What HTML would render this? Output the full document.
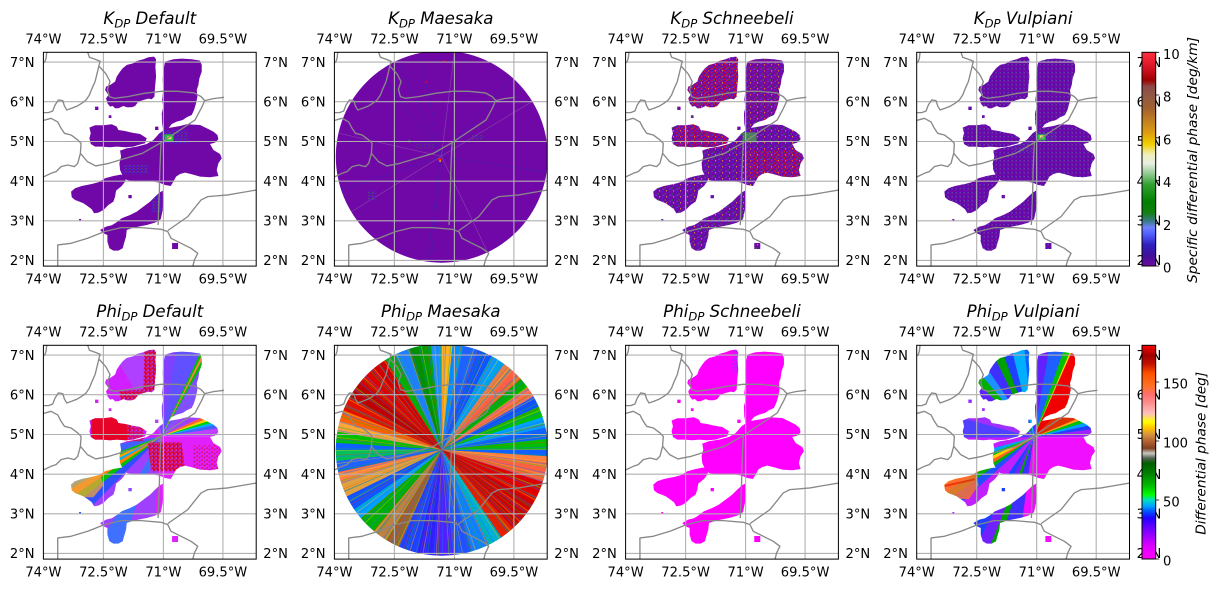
<!DOCTYPE html>
<html><head><meta charset="utf-8">
<style>
html,body{margin:0;padding:0;background:#fff;}
svg{display:block;font-family:"DejaVu Sans","Liberation Sans",sans-serif;}
.t{text-anchor:middle}.l{text-anchor:end}.r{text-anchor:start}
.tt{text-anchor:middle;font-style:italic;font-size:16.6px}
</style></head><body>
<svg width="1222" height="589" viewBox="0 0 1222 589" xmlns="http://www.w3.org/2000/svg">
<defs>
<clipPath id="ax"><rect x="0" y="0" width="212.8" height="213.8"/></clipPath>
<path id="echo" transform="scale(0.33333) translate(-130,-157)" d="M368,205 L380,195 L400,190 L410,183 L430,178 L445,172 L462,170 L468,178 L466,200 L468,230 L465,260 L463,290 L455,298 L445,296 L430,300 L415,305 L405,318 L395,322 L380,322 L370,318 L355,325 L345,325 L338,318 L330,320 L322,310 L318,295 L325,285 L315,270 L318,260 L330,255 L345,245 L350,230 L360,215 Z M495,185 L520,178 L545,176 L575,178 L600,182 L605,195 L605,215 L598,235 L595,255 L590,270 L592,290 L588,310 L582,330 L575,345 L560,352 L548,360 L530,365 L515,372 L505,385 L490,392 L486,370 L485,340 L490,320 L486,300 L490,270 L488,240 L490,210 Z M268,383 L285,376 L310,376 L335,373 L350,380 L355,390 L375,393 L395,398 L420,402 L440,415 L435,430 L415,435 L400,440 L375,442 L350,440 L330,442 L305,440 L285,440 L272,432 L268,415 L272,400 Z M460,420 L478,400 L500,385 L540,378 L560,373 L600,375 L620,385 L640,395 L652,405 L655,418 L645,428 L630,432 L640,450 L660,462 L665,475 L655,490 L650,510 L655,528 L630,532 L600,530 L575,523 L555,518 L540,522 L528,530 L520,545 L512,558 L495,555 L478,548 L460,545 L440,545 L420,545 L400,545 L380,540 L368,528 L360,510 L358,490 L363,470 L360,452 L380,445 L410,440 L440,432 Z M213,575 L225,565 L245,558 L275,552 L295,547 L315,535 L340,528 L362,524 L380,528 L375,545 L365,558 L348,572 L345,590 L340,605 L325,615 L310,630 L295,638 L282,640 L275,628 L262,618 L250,610 L238,605 L225,600 L215,592 Z M348,668 L365,655 L390,645 L410,635 L430,620 L450,605 L465,590 L478,578 L488,572 L490,600 L488,630 L482,658 L465,668 L440,675 L415,680 L395,685 L380,690 L378,710 L372,730 L368,745 L355,752 L340,752 L328,745 L322,725 L322,705 L310,700 L300,690 L318,680 L335,676 Z M465,380h10v10h-10z M285,320h10v10h-10z M326,346h8v8h-8z M385,585h10v10h-10z M516,729h18v18h-18z M237,657h6v6h-6z"/>
<clipPath id="ec"><use href="#echo"/></clipPath>
<clipPath id="cm"><circle cx="107.4" cy="104.4" r="106"/></clipPath>
<pattern id="pA" width="7" height="6" patternUnits="userSpaceOnUse">
<rect x="1" y="1" width="1.5" height="1" fill="#3030e0"/><rect x="4" y="3" width="1" height="1.5" fill="#00a000"/><rect x="2" y="4.5" width="1" height="1" fill="#6070ff"/><rect x="5.5" y="0" width="1" height="1" fill="#ffd000"/></pattern>
<pattern id="pR" width="5" height="4" patternUnits="userSpaceOnUse">
<rect x="0" y="0" width="2" height="1" fill="#ff0000"/><rect x="3" y="2" width="1.5" height="1.5" fill="#f00010"/><rect x="1" y="3" width="1" height="1" fill="#4040ff"/></pattern>
<pattern id="pV" width="4" height="4" patternUnits="userSpaceOnUse">
<rect x="0" y="0" width="2" height="1" fill="#3a10b8"/><rect x="2" y="2" width="1" height="2" fill="#4818c0"/><rect x="3" y="0" width="1" height="1" fill="#8a6a9a"/></pattern>
<pattern id="pB" width="4" height="3" patternUnits="userSpaceOnUse">
<rect x="0" y="0" width="1.5" height="1" fill="#3030ff"/><rect x="2" y="2" width="1" height="1" fill="#20a020"/></pattern>
<pattern id="pM" width="3" height="4" patternUnits="userSpaceOnUse">
<rect x="0" y="0" width="1" height="2" fill="#8040ff"/><rect x="2" y="2" width="1" height="1" fill="#4040ff"/></pattern>
<pattern id="pRV" width="4" height="4" patternUnits="userSpaceOnUse">
<rect x="0" y="0" width="4" height="4" fill="#e00010"/><rect x="0" y="0" width="1.5" height="2" fill="#b040ff"/><rect x="2.5" y="2" width="1.5" height="1" fill="#c030ff"/></pattern>
<linearGradient id="gK" x1="0" y1="1" x2="0" y2="0">
<stop offset="0" stop-color="#6c0aa0"/><stop offset="0.05" stop-color="#40109a"/><stop offset="0.10" stop-color="#3020c0"/><stop offset="0.15" stop-color="#5060ff"/><stop offset="0.18" stop-color="#7080ff"/><stop offset="0.21" stop-color="#3a7a8a"/><stop offset="0.25" stop-color="#108010"/><stop offset="0.30" stop-color="#008000"/><stop offset="0.38" stop-color="#30a030"/><stop offset="0.44" stop-color="#a0d0a0"/><stop offset="0.48" stop-color="#e8eee0"/><stop offset="0.52" stop-color="#f0f0c0"/><stop offset="0.57" stop-color="#f0d000"/><stop offset="0.62" stop-color="#e0a010"/><stop offset="0.68" stop-color="#c08020"/><stop offset="0.74" stop-color="#a06030"/><stop offset="0.80" stop-color="#905848"/><stop offset="0.84" stop-color="#904848"/><stop offset="0.87" stop-color="#a00000"/><stop offset="0.92" stop-color="#d01020"/><stop offset="1" stop-color="#ff3040"/></linearGradient>
<linearGradient id="gP" x1="0" y1="1" x2="0" y2="0">
<stop offset="0" stop-color="#ff00ff"/><stop offset="0.059" stop-color="#e000ff"/><stop offset="0.106" stop-color="#a000ff"/><stop offset="0.152" stop-color="#6000ff"/><stop offset="0.191" stop-color="#2000ff"/><stop offset="0.222" stop-color="#0050ff"/><stop offset="0.246" stop-color="#00a0ff"/><stop offset="0.277" stop-color="#00e0c0"/><stop offset="0.300" stop-color="#00ff00"/><stop offset="0.339" stop-color="#00c000"/><stop offset="0.401" stop-color="#008000"/><stop offset="0.448" stop-color="#006000"/><stop offset="0.471" stop-color="#506050"/><stop offset="0.495" stop-color="#c8c8c0"/><stop offset="0.518" stop-color="#804020"/><stop offset="0.549" stop-color="#b06030"/><stop offset="0.580" stop-color="#d09040"/><stop offset="0.611" stop-color="#ffc000"/><stop offset="0.642" stop-color="#ffff00"/><stop offset="0.681" stop-color="#ffc0c0"/><stop offset="0.728" stop-color="#ff9090"/><stop offset="0.767" stop-color="#ff7070"/><stop offset="0.813" stop-color="#ff7020"/><stop offset="0.868" stop-color="#ff5000"/><stop offset="0.914" stop-color="#c01000"/><stop offset="0.953" stop-color="#a00000"/><stop offset="1" stop-color="#ff0000"/></linearGradient>
<g id="frame">
<g clip-path="url(#ax)">
<path d="M60,0V214M120,0V214M179.5,0V214M0,9.8H213M0,49.4H213M0,89.2H213M0,128.9H213M0,168.5H213M0,208.1H213" stroke="#b0b0b0" stroke-width="1.1" fill="none"/>
<path transform="scale(0.33333) translate(-130,-157)" fill="none" stroke="#888" stroke-width="4" stroke-linejoin="round" d="M140,157 L138,175 L134,186 L128,190 M263,157 L268,172 L285,178 L300,184 L296,200 L290,225 L285,245 L276,265 L268,285 L258,300 L245,310 L232,318 L215,325 L200,330 L193,318 L188,302 L175,300 L165,315 L158,333 L145,338 L128,338 M298,200 L318,222 L330,245 L322,268 L328,290 L343,295 L383,290 L433,280 L483,274 L533,274 L583,279 L603,290 L614,302 L640,296 L672,292 M128,362 L153,355 L173,366 L183,385 L193,400 L213,405 L233,420 L243,430 L241,460 L233,490 L223,500 L203,495 L183,500 L168,515 L153,520 L128,532 M241,460 L262,485 L287,498 L327,490 L377,475 L427,460 L483,428 L537,392 L585,360 L605,322 L614,302 M483,428 L481,470 L479,520 L478,570 L476,620 L474,675 M173,800 L173,735 L213,730 L263,715 L313,695 L363,683 L423,683 L483,688 L503,695 L513,715 L543,730 L573,745 L593,760 L583,780 L578,800 M503,692 L563,650 L603,600 L623,590 L683,585 L723,578 L770,570"/>
</g>
<rect x="0" y="0" width="212.8" height="213.8" fill="none" stroke="#000" stroke-width="1"/>
</g>
</defs>
<rect width="1222" height="589" fill="#fff"/>

<!-- ===== Row 1 ===== -->
<g transform="translate(43.4,52.3)">
<g clip-path="url(#ax)">
<use href="#echo" fill="#7008a8"/>
<g clip-path="url(#ec)">
<rect x="115" y="78" width="30" height="14" fill="url(#pB)"/>
<rect x="80" y="112" width="25" height="10" fill="url(#pB)"/>
<rect x="108" y="142" width="10" height="18" fill="url(#pB)"/>
<rect x="121" y="82" width="9" height="7" fill="#20c040"/>
<rect x="124" y="84" width="4" height="3" fill="#f0e060"/>
</g>
</g>
<use href="#frame"/>
<g font-size="13.1">
<text class="t" y="-8.8"><tspan x="0">74°W</tspan><tspan x="60">72.5°W</tspan><tspan x="120">71°W</tspan><tspan x="179.5">69.5°W</tspan></text>
<text class="t" y="231"><tspan x="0">74°W</tspan><tspan x="60">72.5°W</tspan><tspan x="120">71°W</tspan><tspan x="179.5">69.5°W</tspan></text>
<text class="l"><tspan x="-8.8" y="14.5">7°N</tspan><tspan x="-8.8" y="54.1">6°N</tspan><tspan x="-8.8" y="93.9">5°N</tspan><tspan x="-8.8" y="133.6">4°N</tspan><tspan x="-8.8" y="173.2">3°N</tspan><tspan x="-8.8" y="212.8">2°N</tspan></text>
<text class="r"><tspan x="219.9" y="14.5">7°N</tspan><tspan x="219.9" y="54.1">6°N</tspan><tspan x="219.9" y="93.9">5°N</tspan><tspan x="219.9" y="133.6">4°N</tspan><tspan x="219.9" y="173.2">3°N</tspan><tspan x="219.9" y="212.8">2°N</tspan></text>
</g>
<text class="tt" x="106.4" y="-28.3">K<tspan font-size="11.6" dy="3.5">DP</tspan><tspan dy="-3.5"> Default</tspan></text>
</g>

<g transform="translate(334.4,52.3)">
<g clip-path="url(#ax)">
<circle cx="107.4" cy="104.4" r="106" fill="#7008a8"/>
<g clip-path="url(#cm)">
<path d="M107,104 L85,0 M107,104 L92,214 M107,104 L96,214 M107,104 L60,0 M107,104 L0,140 M107,104 L213,120 M107,104 L30,0 M107,104 L200,0" stroke="#4020b0" stroke-width="0.8" opacity="0.6"/>
<path d="M107,104 L0,80 M107,104 L0,170 M107,104 L160,214 M107,104 L213,40 M107,104 L120,0" stroke="#9a70b0" stroke-width="0.7" opacity="0.5"/>
</g>
<rect x="91" y="29" width="1.5" height="1.5" fill="#ff0000"/>
<rect x="109" y="8" width="1.5" height="2" fill="#ff0000"/>
<rect x="34" y="138" width="8" height="10" fill="url(#pB)"/>
<rect x="74" y="88" width="2" height="2" fill="#00c000"/>
<rect x="104" y="106" width="3" height="2" fill="#ff2000"/>
<rect x="105" y="108" width="1.5" height="1.5" fill="#ffd000"/>
<rect x="80" y="90" width="20" height="6" fill="url(#pB)" opacity="0.6"/>
<rect x="138" y="83" width="12" height="4" fill="url(#pB)"/>
</g>
<use href="#frame"/>
<g font-size="13.1">
<text class="t" y="-8.8"><tspan x="0">74°W</tspan><tspan x="60">72.5°W</tspan><tspan x="120">71°W</tspan><tspan x="179.5">69.5°W</tspan></text>
<text class="t" y="231"><tspan x="0">74°W</tspan><tspan x="60">72.5°W</tspan><tspan x="120">71°W</tspan><tspan x="179.5">69.5°W</tspan></text>
<text class="l"><tspan x="-8.8" y="14.5">7°N</tspan><tspan x="-8.8" y="54.1">6°N</tspan><tspan x="-8.8" y="93.9">5°N</tspan><tspan x="-8.8" y="133.6">4°N</tspan><tspan x="-8.8" y="173.2">3°N</tspan><tspan x="-8.8" y="212.8">2°N</tspan></text>
<text class="r"><tspan x="219.9" y="14.5">7°N</tspan><tspan x="219.9" y="54.1">6°N</tspan><tspan x="219.9" y="93.9">5°N</tspan><tspan x="219.9" y="133.6">4°N</tspan><tspan x="219.9" y="173.2">3°N</tspan><tspan x="219.9" y="212.8">2°N</tspan></text>
</g>
<text class="tt" x="106.4" y="-28.3">K<tspan font-size="11.6" dy="3.5">DP</tspan><tspan dy="-3.5"> Maesaka</tspan></text>
</g>

<g transform="translate(625.6,52.3)">
<g clip-path="url(#ax)">
<use href="#echo" fill="#7008a8"/>
<g clip-path="url(#ec)">
<rect x="0" y="0" width="213" height="214" fill="url(#pA)"/>
<rect x="63" y="8" width="52" height="54" fill="url(#pR)"/>
<rect x="50" y="66" width="52" height="30" fill="url(#pR)"/>
<rect x="120" y="97" width="57" height="28" fill="url(#pR)"/>
<rect x="120" y="8" width="35" height="60" fill="url(#pR)" opacity="0.35"/>
<rect x="117" y="80" width="14" height="10" fill="#40b040" opacity="0.7"/>
</g>
</g>
<use href="#frame"/>
<g font-size="13.1">
<text class="t" y="-8.8"><tspan x="0">74°W</tspan><tspan x="60">72.5°W</tspan><tspan x="120">71°W</tspan><tspan x="179.5">69.5°W</tspan></text>
<text class="t" y="231"><tspan x="0">74°W</tspan><tspan x="60">72.5°W</tspan><tspan x="120">71°W</tspan><tspan x="179.5">69.5°W</tspan></text>
<text class="l"><tspan x="-8.8" y="14.5">7°N</tspan><tspan x="-8.8" y="54.1">6°N</tspan><tspan x="-8.8" y="93.9">5°N</tspan><tspan x="-8.8" y="133.6">4°N</tspan><tspan x="-8.8" y="173.2">3°N</tspan><tspan x="-8.8" y="212.8">2°N</tspan></text>
<text class="r"><tspan x="219.9" y="14.5">7°N</tspan><tspan x="219.9" y="54.1">6°N</tspan><tspan x="219.9" y="93.9">5°N</tspan><tspan x="219.9" y="133.6">4°N</tspan><tspan x="219.9" y="173.2">3°N</tspan><tspan x="219.9" y="212.8">2°N</tspan></text>
</g>
<text class="tt" x="106.4" y="-28.3">K<tspan font-size="11.6" dy="3.5">DP</tspan><tspan dy="-3.5"> Schneebeli</tspan></text>
</g>

<g transform="translate(916.7,52.3)">
<g clip-path="url(#ax)">
<use href="#echo" fill="#7008a8"/>
<g clip-path="url(#ec)">
<rect x="0" y="0" width="213" height="214" fill="url(#pV)"/>
<rect x="118" y="79" width="22" height="10" fill="url(#pB)"/>
<rect x="121" y="82" width="8" height="6" fill="#20c040"/>
<rect x="123" y="83" width="4" height="3" fill="#f0e060"/>
<rect x="95" y="88" width="20" height="12" fill="url(#pB)"/>
</g>
</g>
<use href="#frame"/>
<g font-size="13.1">
<text class="t" y="-8.8"><tspan x="0">74°W</tspan><tspan x="60">72.5°W</tspan><tspan x="120">71°W</tspan><tspan x="179.5">69.5°W</tspan></text>
<text class="t" y="231"><tspan x="0">74°W</tspan><tspan x="60">72.5°W</tspan><tspan x="120">71°W</tspan><tspan x="179.5">69.5°W</tspan></text>
<text class="l"><tspan x="-8.8" y="14.5">7°N</tspan><tspan x="-8.8" y="54.1">6°N</tspan><tspan x="-8.8" y="93.9">5°N</tspan><tspan x="-8.8" y="133.6">4°N</tspan><tspan x="-8.8" y="173.2">3°N</tspan><tspan x="-8.8" y="212.8">2°N</tspan></text>
<text class="r"><tspan x="219.9" y="14.5">7°N</tspan><tspan x="219.9" y="54.1">6°N</tspan><tspan x="219.9" y="93.9">5°N</tspan><tspan x="219.9" y="133.6">4°N</tspan><tspan x="219.9" y="173.2">3°N</tspan><tspan x="219.9" y="212.8">2°N</tspan></text>
</g>
<text class="tt" x="106.4" y="-28.3">K<tspan font-size="11.6" dy="3.5">DP</tspan><tspan dy="-3.5"> Vulpiani</tspan></text>
</g>

<!-- ===== Row 2 ===== -->
<g transform="translate(43.4,345.3)">
<g clip-path="url(#ax)">
<g clip-path="url(#ec)">
<g transform="translate(118,91) scale(2,-2)" fill="none" stroke-width="114.6">
<circle r="57.296" stroke="#c040ff" stroke-dasharray="8.4 400"/>
<circle r="57.296" stroke="#4060ff" stroke-dasharray="4.4 400" stroke-dashoffset="-8"/>
<circle r="57.296" stroke="#00b0ff" stroke-dasharray="3.4 400" stroke-dashoffset="-12"/>
<circle r="57.296" stroke="#00d000" stroke-dasharray="3.4 400" stroke-dashoffset="-15"/>
<circle r="57.296" stroke="#ffd000" stroke-dasharray="3.4 400" stroke-dashoffset="-18"/>
<circle r="57.296" stroke="#ff6030" stroke-dasharray="4.4 400" stroke-dashoffset="-21"/>
<circle r="57.296" stroke="#a040ff" stroke-dasharray="20.4 400" stroke-dashoffset="-25"/>
<circle r="57.296" stroke="#8050ff" stroke-dasharray="15.4 400" stroke-dashoffset="-45"/>
<circle r="57.296" stroke="#00c000" stroke-dasharray="2.4 400" stroke-dashoffset="-60"/>
<circle r="57.296" stroke="#ff8040" stroke-dasharray="1.9 400" stroke-dashoffset="-62"/>
<circle r="57.296" stroke="#00c000" stroke-dasharray="1.9 400" stroke-dashoffset="-63.5"/>
<circle r="57.296" stroke="#6050ff" stroke-dasharray="15.4 400" stroke-dashoffset="-65"/>
<circle r="57.296" stroke="#8040ff" stroke-dasharray="20.4 400" stroke-dashoffset="-80"/>
<circle r="57.296" stroke="#b040ff" stroke-dasharray="20.4 400" stroke-dashoffset="-100"/>
<circle r="57.296" stroke="#d020ff" stroke-dasharray="70.4 400" stroke-dashoffset="-120"/>
<circle r="57.296" stroke="#4060ff" stroke-dasharray="10.4 400" stroke-dashoffset="-190"/>
<circle r="57.296" stroke="#00c000" stroke-dasharray="4.4 400" stroke-dashoffset="-200"/>
<circle r="57.296" stroke="#ffa000" stroke-dasharray="3.4 400" stroke-dashoffset="-204"/>
<circle r="57.296" stroke="#00b0ff" stroke-dasharray="3.4 400" stroke-dashoffset="-207"/>
<circle r="57.296" stroke="#ff8000" stroke-dasharray="4.4 400" stroke-dashoffset="-210"/>
<circle r="57.296" stroke="#00c000" stroke-dasharray="4.4 400" stroke-dashoffset="-214"/>
<circle r="57.296" stroke="#3050ff" stroke-dasharray="7.4 400" stroke-dashoffset="-218"/>
<circle r="57.296" stroke="#a040ff" stroke-dasharray="15.4 400" stroke-dashoffset="-225"/>
<circle r="57.296" stroke="#4070ff" stroke-dasharray="10.4 400" stroke-dashoffset="-240"/>
<circle r="57.296" stroke="#a040ff" stroke-dasharray="15.4 400" stroke-dashoffset="-250"/>
<circle r="57.296" stroke="#e020ff" stroke-dasharray="95 400" stroke-dashoffset="-265"/>
</g>
<polygon points="101,4 114,4 114,58 78,60 76,46 100,44" fill="url(#pRV)" opacity="0.9"/>
<polygon points="48,66 82,66 88,80 84,96 48,96" fill="#e80010" opacity="0.9"/>
<polygon points="82,66 100,72 100,96 84,96" fill="url(#pRV)" opacity="0.7"/>
<polygon points="104,97 138,97 142,126 108,126" fill="url(#pRV)" opacity="0.9"/>
<rect x="150" y="100" width="27" height="25" fill="url(#pR)" opacity="0.8"/>
<polygon points="22,128 56,126 60,140 50,152 22,152" fill="#f0a040" opacity="0.75"/>
</g>
</g>
<use href="#frame"/>
<g font-size="13.1">
<text class="t" y="-8.8"><tspan x="0">74°W</tspan><tspan x="60">72.5°W</tspan><tspan x="120">71°W</tspan><tspan x="179.5">69.5°W</tspan></text>
<text class="t" y="231"><tspan x="0">74°W</tspan><tspan x="60">72.5°W</tspan><tspan x="120">71°W</tspan><tspan x="179.5">69.5°W</tspan></text>
<text class="l"><tspan x="-8.8" y="14.5">7°N</tspan><tspan x="-8.8" y="54.1">6°N</tspan><tspan x="-8.8" y="93.9">5°N</tspan><tspan x="-8.8" y="133.6">4°N</tspan><tspan x="-8.8" y="173.2">3°N</tspan><tspan x="-8.8" y="212.8">2°N</tspan></text>
<text class="r"><tspan x="219.9" y="14.5">7°N</tspan><tspan x="219.9" y="54.1">6°N</tspan><tspan x="219.9" y="93.9">5°N</tspan><tspan x="219.9" y="133.6">4°N</tspan><tspan x="219.9" y="173.2">3°N</tspan><tspan x="219.9" y="212.8">2°N</tspan></text>
</g>
<text class="tt" x="106.4" y="-28.3">Phi<tspan font-size="11.6" dy="3.5">DP</tspan><tspan dy="-3.5"> Default</tspan></text>
</g>

<g transform="translate(334.4,345.3)">
<g clip-path="url(#ax)">
<g clip-path="url(#cm)">
<circle cx="107.4" cy="104.4" r="106" fill="#3060ff"/>
<g transform="translate(107.4,104.4) scale(1,-1)" fill="none" stroke-width="114.6">
<circle r="57.296" stroke="#00c000" stroke-dasharray="6.5 400"/>
<circle r="57.296" stroke="#1060ff" stroke-dasharray="6.5 400" stroke-dashoffset="-6"/>
<circle r="57.296" stroke="#00a0ff" stroke-dasharray="6.5 400" stroke-dashoffset="-12"/>
<circle r="57.296" stroke="#00c000" stroke-dasharray="6.5 400" stroke-dashoffset="-18"/>
<circle r="57.296" stroke="#1050ff" stroke-dasharray="6.5 400" stroke-dashoffset="-24"/>
<circle r="57.296" stroke="#ff7050" stroke-dasharray="6.5 400" stroke-dashoffset="-30"/>
<circle r="57.296" stroke="#00b000" stroke-dasharray="6.5 400" stroke-dashoffset="-36"/>
<circle r="57.296" stroke="#ff6040" stroke-dasharray="6.5 400" stroke-dashoffset="-42"/>
<circle r="57.296" stroke="#e08050" stroke-dasharray="6.5 400" stroke-dashoffset="-48"/>
<circle r="57.296" stroke="#00a0ff" stroke-dasharray="8.5 400" stroke-dashoffset="-54"/>
<circle r="57.296" stroke="#1050ff" stroke-dasharray="8.5 400" stroke-dashoffset="-62"/>
<circle r="57.296" stroke="#2060ff" stroke-dasharray="8.5 400" stroke-dashoffset="-70"/>
<circle r="57.296" stroke="#0090ff" stroke-dasharray="6.5 400" stroke-dashoffset="-78"/>
<circle r="57.296" stroke="#ffb020" stroke-dasharray="6.5 400" stroke-dashoffset="-84"/>
<circle r="57.296" stroke="#1e90ff" stroke-dasharray="6.5 400" stroke-dashoffset="-90"/>
<circle r="57.296" stroke="#00a000" stroke-dasharray="6.5 400" stroke-dashoffset="-96"/>
<circle r="57.296" stroke="#009000" stroke-dasharray="6.5 400" stroke-dashoffset="-102"/>
<circle r="57.296" stroke="#1e80ff" stroke-dasharray="8.5 400" stroke-dashoffset="-108"/>
<circle r="57.296" stroke="#00b000" stroke-dasharray="6.5 400" stroke-dashoffset="-116"/>
<circle r="57.296" stroke="#d00000" stroke-dasharray="8.5 400" stroke-dashoffset="-122"/>
<circle r="57.296" stroke="#e00000" stroke-dasharray="10.5 400" stroke-dashoffset="-130"/>
<circle r="57.296" stroke="#c00000" stroke-dasharray="10.5 400" stroke-dashoffset="-140"/>
<circle r="57.296" stroke="#e01000" stroke-dasharray="8.5 400" stroke-dashoffset="-150"/>
<circle r="57.296" stroke="#ff6000" stroke-dasharray="6.5 400" stroke-dashoffset="-158"/>
<circle r="57.296" stroke="#ffa040" stroke-dasharray="6.5 400" stroke-dashoffset="-164"/>
<circle r="57.296" stroke="#00c000" stroke-dasharray="6.5 400" stroke-dashoffset="-170"/>
<circle r="57.296" stroke="#1060ff" stroke-dasharray="4.5 400" stroke-dashoffset="-176"/>
<circle r="57.296" stroke="#00c060" stroke-dasharray="6.5 400" stroke-dashoffset="-180"/>
<circle r="57.296" stroke="#2060ff" stroke-dasharray="6.5 400" stroke-dashoffset="-186"/>
<circle r="57.296" stroke="#ff8040" stroke-dasharray="6.5 400" stroke-dashoffset="-192"/>
<circle r="57.296" stroke="#e0a040" stroke-dasharray="8.5 400" stroke-dashoffset="-198"/>
<circle r="57.296" stroke="#1050ff" stroke-dasharray="8.5 400" stroke-dashoffset="-206"/>
<circle r="57.296" stroke="#00a0ff" stroke-dasharray="6.5 400" stroke-dashoffset="-214"/>
<circle r="57.296" stroke="#00b000" stroke-dasharray="10.5 400" stroke-dashoffset="-220"/>
<circle r="57.296" stroke="#c08040" stroke-dasharray="8.5 400" stroke-dashoffset="-230"/>
<circle r="57.296" stroke="#a06030" stroke-dasharray="8.5 400" stroke-dashoffset="-238"/>
<circle r="57.296" stroke="#2040ff" stroke-dasharray="10.5 400" stroke-dashoffset="-246"/>
<circle r="57.296" stroke="#3020ff" stroke-dasharray="10.5 400" stroke-dashoffset="-256"/>
<circle r="57.296" stroke="#5020ff" stroke-dasharray="10.5 400" stroke-dashoffset="-266"/>
<circle r="57.296" stroke="#2050ff" stroke-dasharray="10.5 400" stroke-dashoffset="-276"/>
<circle r="57.296" stroke="#1080ff" stroke-dasharray="10.5 400" stroke-dashoffset="-286"/>
<circle r="57.296" stroke="#00b0d0" stroke-dasharray="8.5 400" stroke-dashoffset="-296"/>
<circle r="57.296" stroke="#e02000" stroke-dasharray="8.5 400" stroke-dashoffset="-304"/>
<circle r="57.296" stroke="#d00000" stroke-dasharray="18.5 400" stroke-dashoffset="-312"/>
<circle r="57.296" stroke="#e00000" stroke-dasharray="12.5 400" stroke-dashoffset="-330"/>
<circle r="57.296" stroke="#ff6040" stroke-dasharray="8.5 400" stroke-dashoffset="-342"/>
<circle r="57.296" stroke="#ff8040" stroke-dasharray="6.5 400" stroke-dashoffset="-350"/>
<circle r="57.296" stroke="#1060ff" stroke-dasharray="4 400" stroke-dashoffset="-356"/>
<circle r="57.296" stroke="#ffd000" stroke-dasharray="0.5 6.7" opacity="0.45"/>
<circle r="57.296" stroke="#00c000" stroke-dasharray="0.6 5.3" stroke-dashoffset="-2" opacity="0.4"/>
<circle r="57.296" stroke="#ff3000" stroke-dasharray="0.5 8.9" stroke-dashoffset="-4" opacity="0.4"/>
<circle r="57.296" stroke="#1e6fff" stroke-dasharray="0.7 4.1" stroke-dashoffset="-1" opacity="0.4"/>
</g>
</g>
</g>
<use href="#frame"/>
<g font-size="13.1">
<text class="t" y="-8.8"><tspan x="0">74°W</tspan><tspan x="60">72.5°W</tspan><tspan x="120">71°W</tspan><tspan x="179.5">69.5°W</tspan></text>
<text class="t" y="231"><tspan x="0">74°W</tspan><tspan x="60">72.5°W</tspan><tspan x="120">71°W</tspan><tspan x="179.5">69.5°W</tspan></text>
<text class="l"><tspan x="-8.8" y="14.5">7°N</tspan><tspan x="-8.8" y="54.1">6°N</tspan><tspan x="-8.8" y="93.9">5°N</tspan><tspan x="-8.8" y="133.6">4°N</tspan><tspan x="-8.8" y="173.2">3°N</tspan><tspan x="-8.8" y="212.8">2°N</tspan></text>
<text class="r"><tspan x="219.9" y="14.5">7°N</tspan><tspan x="219.9" y="54.1">6°N</tspan><tspan x="219.9" y="93.9">5°N</tspan><tspan x="219.9" y="133.6">4°N</tspan><tspan x="219.9" y="173.2">3°N</tspan><tspan x="219.9" y="212.8">2°N</tspan></text>
</g>
<text class="tt" x="106.4" y="-28.3">Phi<tspan font-size="11.6" dy="3.5">DP</tspan><tspan dy="-3.5"> Maesaka</tspan></text>
</g>

<g transform="translate(625.6,345.3)">
<g clip-path="url(#ax)">
<use href="#echo" fill="#ff00ff"/>
<g clip-path="url(#ec)">
<rect x="107" y="4" width="10" height="22" fill="url(#pM)"/>
<rect x="60" y="60" width="6" height="6" fill="url(#pM)" opacity="0.6"/>
</g>
</g>
<use href="#frame"/>
<g font-size="13.1">
<text class="t" y="-8.8"><tspan x="0">74°W</tspan><tspan x="60">72.5°W</tspan><tspan x="120">71°W</tspan><tspan x="179.5">69.5°W</tspan></text>
<text class="t" y="231"><tspan x="0">74°W</tspan><tspan x="60">72.5°W</tspan><tspan x="120">71°W</tspan><tspan x="179.5">69.5°W</tspan></text>
<text class="l"><tspan x="-8.8" y="14.5">7°N</tspan><tspan x="-8.8" y="54.1">6°N</tspan><tspan x="-8.8" y="93.9">5°N</tspan><tspan x="-8.8" y="133.6">4°N</tspan><tspan x="-8.8" y="173.2">3°N</tspan><tspan x="-8.8" y="212.8">2°N</tspan></text>
<text class="r"><tspan x="219.9" y="14.5">7°N</tspan><tspan x="219.9" y="54.1">6°N</tspan><tspan x="219.9" y="93.9">5°N</tspan><tspan x="219.9" y="133.6">4°N</tspan><tspan x="219.9" y="173.2">3°N</tspan><tspan x="219.9" y="212.8">2°N</tspan></text>
</g>
<text class="tt" x="106.4" y="-28.3">Phi<tspan font-size="11.6" dy="3.5">DP</tspan><tspan dy="-3.5"> Schneebeli</tspan></text>
</g>

<g transform="translate(916.7,345.3)">
<g clip-path="url(#ax)">
<g clip-path="url(#ec)">
<g transform="translate(117,92) scale(2,-2)" fill="none" stroke-width="114.6">
<circle r="57.296" stroke="#a020ff" stroke-dasharray="8.4 400"/>
<circle r="57.296" stroke="#2040ff" stroke-dasharray="4.4 400" stroke-dashoffset="-8"/>
<circle r="57.296" stroke="#00a0ff" stroke-dasharray="4.4 400" stroke-dashoffset="-12"/>
<circle r="57.296" stroke="#00c000" stroke-dasharray="4.4 400" stroke-dashoffset="-16"/>
<circle r="57.296" stroke="#ffa020" stroke-dasharray="3.4 400" stroke-dashoffset="-20"/>
<circle r="57.296" stroke="#e03000" stroke-dasharray="22.4 400" stroke-dashoffset="-23"/>
<circle r="57.296" stroke="#f00000" stroke-dasharray="21.4 400" stroke-dashoffset="-45"/>
<circle r="57.296" stroke="#ffd000" stroke-dasharray="1.4 400" stroke-dashoffset="-66"/>
<circle r="57.296" stroke="#00c000" stroke-dasharray="4.4 400" stroke-dashoffset="-67"/>
<circle r="57.296" stroke="#1e60ff" stroke-dasharray="9.4 400" stroke-dashoffset="-71"/>
<circle r="57.296" stroke="#6020ff" stroke-dasharray="8.4 400" stroke-dashoffset="-80"/>
<circle r="57.296" stroke="#1060ff" stroke-dasharray="8.4 400" stroke-dashoffset="-88"/>
<circle r="57.296" stroke="#00b0ff" stroke-dasharray="8.4 400" stroke-dashoffset="-96"/>
<circle r="57.296" stroke="#2040ff" stroke-dasharray="6.4 400" stroke-dashoffset="-104"/>
<circle r="57.296" stroke="#00a000" stroke-dasharray="6.4 400" stroke-dashoffset="-110"/>
<circle r="57.296" stroke="#4030ff" stroke-dasharray="8.4 400" stroke-dashoffset="-116"/>
<circle r="57.296" stroke="#1e90ff" stroke-dasharray="6.4 400" stroke-dashoffset="-124"/>
<circle r="57.296" stroke="#00b000" stroke-dasharray="6.4 400" stroke-dashoffset="-130"/>
<circle r="57.296" stroke="#6020ff" stroke-dasharray="14.4 400" stroke-dashoffset="-136"/>
<circle r="57.296" stroke="#a030ff" stroke-dasharray="15.4 400" stroke-dashoffset="-150"/>
<circle r="57.296" stroke="#5040ff" stroke-dasharray="15.4 400" stroke-dashoffset="-165"/>
<circle r="57.296" stroke="#c020ff" stroke-dasharray="15.4 400" stroke-dashoffset="-180"/>
<circle r="57.296" stroke="#00a0ff" stroke-dasharray="5.4 400" stroke-dashoffset="-195"/>
<circle r="57.296" stroke="#00c000" stroke-dasharray="4.4 400" stroke-dashoffset="-200"/>
<circle r="57.296" stroke="#ffd000" stroke-dasharray="4.4 400" stroke-dashoffset="-204"/>
<circle r="57.296" stroke="#ff6020" stroke-dasharray="4.4 400" stroke-dashoffset="-208"/>
<circle r="57.296" stroke="#00b000" stroke-dasharray="4.4 400" stroke-dashoffset="-212"/>
<circle r="57.296" stroke="#2050ff" stroke-dasharray="6.4 400" stroke-dashoffset="-216"/>
<circle r="57.296" stroke="#c020ff" stroke-dasharray="13.4 400" stroke-dashoffset="-222"/>
<circle r="57.296" stroke="#2040ff" stroke-dasharray="7.4 400" stroke-dashoffset="-235"/>
<circle r="57.296" stroke="#7020ff" stroke-dasharray="6.4 400" stroke-dashoffset="-242"/>
<circle r="57.296" stroke="#00a000" stroke-dasharray="4.4 400" stroke-dashoffset="-248"/>
<circle r="57.296" stroke="#4030ff" stroke-dasharray="10.4 400" stroke-dashoffset="-252"/>
<circle r="57.296" stroke="#f010ff" stroke-dasharray="98 400" stroke-dashoffset="-262"/>
</g>
<polygon points="22,126 58,124 62,140 52,154 22,152" fill="#ff7030" opacity="0.85"/>
<path d="M22,134 L60,128 M22,142 L58,134" stroke="#e02000" stroke-width="2" opacity="0.7"/>
</g>
</g>
<use href="#frame"/>
<g font-size="13.1">
<text class="t" y="-8.8"><tspan x="0">74°W</tspan><tspan x="60">72.5°W</tspan><tspan x="120">71°W</tspan><tspan x="179.5">69.5°W</tspan></text>
<text class="t" y="231"><tspan x="0">74°W</tspan><tspan x="60">72.5°W</tspan><tspan x="120">71°W</tspan><tspan x="179.5">69.5°W</tspan></text>
<text class="l"><tspan x="-8.8" y="14.5">7°N</tspan><tspan x="-8.8" y="54.1">6°N</tspan><tspan x="-8.8" y="93.9">5°N</tspan><tspan x="-8.8" y="133.6">4°N</tspan><tspan x="-8.8" y="173.2">3°N</tspan><tspan x="-8.8" y="212.8">2°N</tspan></text>
<text class="r"><tspan x="219.9" y="14.5">7°N</tspan><tspan x="219.9" y="54.1">6°N</tspan><tspan x="219.9" y="93.9">5°N</tspan><tspan x="219.9" y="133.6">4°N</tspan><tspan x="219.9" y="173.2">3°N</tspan><tspan x="219.9" y="212.8">2°N</tspan></text>
</g>
<text class="tt" x="106.4" y="-28.3">Phi<tspan font-size="11.6" dy="3.5">DP</tspan><tspan dy="-3.5"> Vulpiani</tspan></text>
</g>

<!-- ===== Colorbars ===== -->
<rect x="1142" y="52.3" width="13.7" height="213.7" fill="url(#gK)" stroke="#000" stroke-width="1"/>
<path d="M1155.7,266h3.5M1155.7,223.3h3.5M1155.7,180.5h3.5M1155.7,137.8h3.5M1155.7,95h3.5M1155.7,52.3h3.5" stroke="#000" stroke-width="0.8"/>
<g font-size="13.1">
<text x="1163" y="272.5">0</text><text x="1163" y="229.8">2</text><text x="1163" y="187">4</text><text x="1163" y="144.3">6</text><text x="1163" y="101.5">8</text><text x="1163" y="58.8">10</text>
</g>
<text transform="translate(1197,160) rotate(-90)" text-anchor="middle" font-size="13.6" font-style="italic" textLength="246" lengthAdjust="spacingAndGlyphs">Specific differential phase [deg/km]</text>

<rect x="1142" y="345.3" width="13.7" height="213.7" fill="url(#gP)" stroke="#000" stroke-width="1"/>
<path d="M1155.7,559h3.5M1155.7,500h3.5M1155.7,441h3.5M1155.7,382h3.5" stroke="#000" stroke-width="0.8"/>
<g font-size="13.1">
<text x="1163" y="565.5">0</text><text x="1163" y="506.5">50</text><text x="1163" y="447.5">100</text><text x="1163" y="388.5">150</text>
</g>
<text transform="translate(1205.5,453.3) rotate(-90)" text-anchor="middle" font-size="13.6" font-style="italic" textLength="163" lengthAdjust="spacingAndGlyphs">Differential phase [deg]</text>
</svg>
</body></html>
